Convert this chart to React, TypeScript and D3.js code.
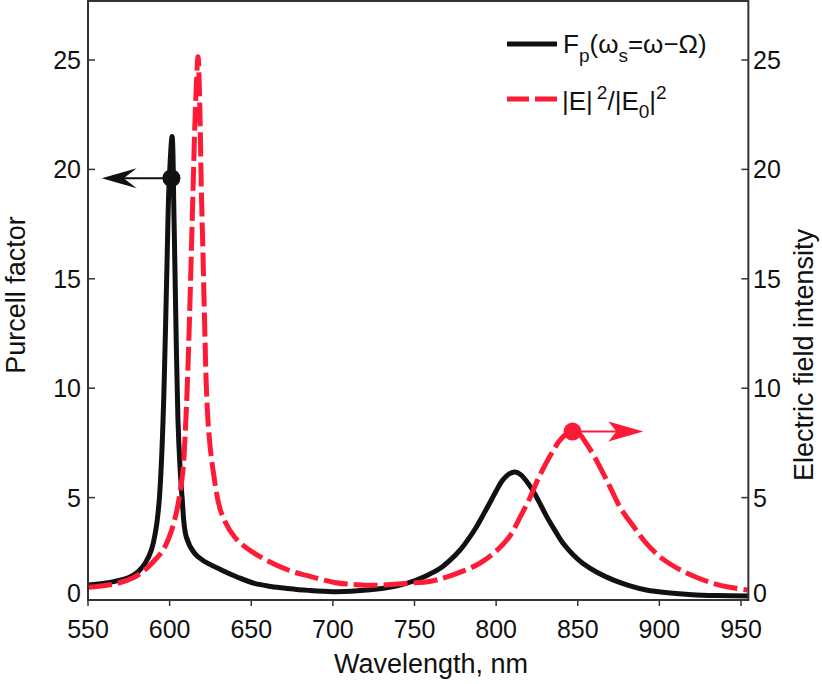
import React from 'react';
import * as d3 from 'd3';

// Purcell factor (left axis)
const fpWl = [550, 565, 575, 580.6, 585, 588.8, 591.5, 593.5, 595.2, 596.6, 598.4, 599.6, 601.5, 602.7, 603.7, 605.1, 606.3, 607.6, 610.2, 615.3, 620, 631.7, 642, 652, 662, 672, 685, 700, 715, 730, 740, 750, 758, 766, 772, 778, 783, 788, 792, 796, 800, 804, 808, 811.5, 815, 821, 826, 831, 836, 841, 847, 853, 862, 872, 882, 892, 905, 920, 935, 955];
const fpVal = [1.0, 1.15, 1.35, 1.61, 2.0, 2.6, 3.5, 4.75, 7.0, 10.07, 15.7, 19.2, 21.5, 17.7, 13.6, 8.55, 6.5, 5.04, 3.2, 2.45, 2.15, 1.69, 1.35, 1.08, 0.94, 0.85, 0.76, 0.7, 0.74, 0.85, 0.98, 1.2, 1.45, 1.78, 2.15, 2.61, 3.1, 3.67, 4.2, 4.74, 5.3, 5.8, 6.08, 6.17, 6.05, 5.5, 4.85, 4.13, 3.5, 2.91, 2.4, 2.0, 1.58, 1.23, 0.97, 0.78, 0.65, 0.56, 0.52, 0.5];

// |E|^2/|E0|^2 (right axis)
const eWl = [550, 568, 578, 584.7, 591, 596, 600.5, 604.1, 606.3, 608.2, 609.6, 610.8, 612.1, 613.3, 614.5, 615.8, 617.4, 618.3, 619.4, 620.4, 621.5, 622.5, 624, 626.6, 631.7, 639.8, 652, 672.5, 686, 701, 715, 729, 745, 760, 770, 780, 790, 800, 808, 815, 821, 826, 833, 840, 846, 851, 855, 860, 866, 871, 876, 884, 892, 902, 913, 923, 933, 943, 954];
const eVal = [0.9, 1.08, 1.35, 1.69, 2.15, 2.6, 3.35, 4.3, 5.2, 6.26, 8.0, 10.07, 13.0, 16.2, 19.5, 22.8, 25.15, 23.5, 19.2, 16.2, 12.8, 10.07, 8.0, 6.26, 4.3, 3.2, 2.45, 1.69, 1.4, 1.12, 1.02, 1.0, 1.08, 1.18, 1.38, 1.65, 2.0, 2.55, 3.2, 4.15, 5.04, 5.9, 6.9, 7.7, 8.02, 7.9, 7.5, 6.9, 6.05, 5.3, 4.55, 3.7, 2.91, 2.2, 1.69, 1.35, 1.08, 0.9, 0.78];

const xTicks = [550, 600, 650, 700, 750, 800, 850, 900, 950];
const yTicks = [0, 5, 10, 15, 20, 25];

// markers: [wavelength, value, arrow tip wavelength]
const fpMarker = [601.1, 19.6, 558.4];
const eMarker = [846.8, 8.02, 890.2];

const W = 822;
const H = 684;
const FONT = '"Liberation Sans", Arial, Helvetica, sans-serif';
const RED = '#fe1b36';
const BLACK = '#111114';

const App: React.FC = () => {
  const x = d3.scaleLinear().domain([550, 950]).range([88, 741]);
  const y = d3.scaleLinear().domain([0, 25]).range([607, 60]);
  const left = 88;
  const right = x(954.5);
  const top = 1;
  const bottom = 600;

  const line = d3.line<[number, number]>()
    .x(d => x(d[0]))
    .y(d => y(d[1]))
    .curve(d3.curveCatmullRom.alpha(0.5));

  const fpPath = line(fpWl.map((w, i) => [w, fpVal[i]]) as [number, number][]) || '';
  const ePath = line(eWl.map((w, i) => [w, eVal[i]]) as [number, number][]) || '';

  const labelY = (v: number) => Math.min(y(v), 593);

  const bx = x(fpMarker[0]), by = y(fpMarker[1]), btip = x(fpMarker[2]);
  const rx = x(eMarker[0]), ry = y(eMarker[1]), rtip = x(eMarker[2]);

  return (
    <svg width={W} height={H} style={{ position: 'absolute', left: 0, top: 0, background: '#fff' }}
      fontFamily={FONT}>
      <defs>
        <clipPath id="plot">
          <rect x={left} y={top} width={right - left} height={bottom - top} />
        </clipPath>
      </defs>

      {/* curves */}
      <g clipPath="url(#plot)" fill="none">
        <path d={fpPath} stroke={BLACK} strokeWidth={5} strokeLinejoin="round" />
        <path d={ePath} stroke={RED} strokeWidth={5} strokeDasharray="24 6" />
      </g>

      {/* frame */}
      <rect x={left} y={top} width={right - left} height={bottom - top} fill="none" stroke="#333" strokeWidth={2} />

      {/* x ticks */}
      {xTicks.map(t => (
        <g key={'x' + t}>
          <line x1={x(t)} x2={x(t)} y1={bottom} y2={bottom + 6} stroke="#333" strokeWidth={1.5} />
          <text x={x(t)} y={638} textAnchor="middle" fontSize={25} fill="#111">{t}</text>
        </g>
      ))}

      {/* y ticks, left and right share the same scale */}
      {yTicks.map(t => (
        <g key={'y' + t}>
          {t > 0 && <line x1={left} x2={left + 7} y1={y(t)} y2={y(t)} stroke="#333" strokeWidth={1.5} />}
          {t > 0 && <line x1={right - 7} x2={right} y1={y(t)} y2={y(t)} stroke="#333" strokeWidth={1.5} />}
          <text x={81} y={labelY(t)} dy="0.36em" textAnchor="end" fontSize={25} fill="#111">{t}</text>
          <text x={753} y={labelY(t)} dy="0.36em" textAnchor="start" fontSize={25} fill="#111">{t}</text>
        </g>
      ))}

      {/* axis titles */}
      <text x={431} y={673} textAnchor="middle" fontSize={27} fill="#111">Wavelength, nm</text>
      <text transform="translate(25,295) rotate(-90)" textAnchor="middle" fontSize={27} fill="#111">Purcell factor</text>
      <text transform="translate(813,355) rotate(-90)" textAnchor="middle" fontSize={27} fill="#111">Electric field intensity</text>

      {/* black marker and arrow to the left axis */}
      <line x1={bx} x2={btip + 20} y1={by} y2={by} stroke={BLACK} strokeWidth={2} />
      <path d={`M${btip},${by} L${btip + 35},${by - 10} L${btip + 22},${by} L${btip + 35},${by + 10} Z`} fill={BLACK} />
      <circle cx={bx} cy={by} r={9} fill={BLACK} />

      {/* red marker and arrow to the right axis */}
      <line x1={rx} x2={rtip - 20} y1={ry} y2={ry} stroke={RED} strokeWidth={2} />
      <path d={`M${rtip},${ry} L${rtip - 35},${ry - 10} L${rtip - 27},${ry} L${rtip - 35},${ry + 10} Z`} fill={RED} />
      <circle cx={rx} cy={ry} r={9} fill={RED} />

      {/* legend */}
      <line x1={507} x2={557} y1={44} y2={44} stroke={BLACK} strokeWidth={5} />
      <text x={563} y={53} fontSize={26} fill="#111">
        F<tspan fontSize={19} dy={9}>p</tspan><tspan dy={-9}>(ω</tspan><tspan fontSize={19} dy={9}>s</tspan><tspan dy={-9}>=ω−Ω)</tspan>
      </text>
      <line x1={507} x2={557} y1={99} y2={99} stroke={RED} strokeWidth={5} strokeDasharray="22 6" />
      <text x={562} y={110} fontSize={26} fill="#111">
        |E|<tspan fontSize={19} dx={4} dy={-11}>2</tspan><tspan dy={11}>/|E</tspan><tspan fontSize={19} dy={8}>0</tspan><tspan dy={-8}>|</tspan><tspan fontSize={19} dy={-11}>2</tspan>
      </text>
    </svg>
  );
};

export default App;
